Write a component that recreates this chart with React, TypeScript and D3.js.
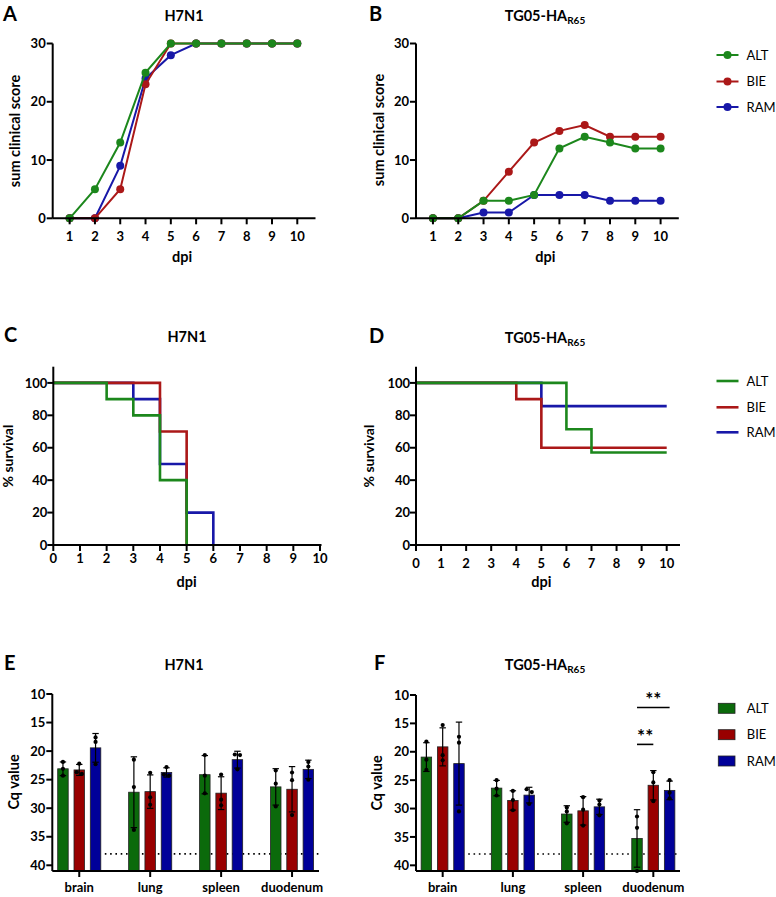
import React from "react";
import * as d3 from "d3";

// groups and colours
const groups = ["ALT", "BIE", "RAM"];
const lineColors = ["#1c871c", "#ab1818", "#1818a8"];
const barColors = ["#0b6a0b", "#990000", "#000099"];

// clinical score (A, B)
const dpi = [1, 2, 3, 4, 5, 6, 7, 8, 9, 10];
const scoreH7N1_ALT = [0, 5, 13, 25, 30, 30, 30, 30, 30, 30];
const scoreH7N1_BIE = [0, 0, 5, 23, 30, 30, 30, 30, 30, 30];
const scoreH7N1_RAM = [0, 0, 9, 24, 28, 30, 30, 30, 30, 30];
const scoreTG05_ALT = [0, 0, 3, 3, 4, 12, 14, 13, 12, 12];
const scoreTG05_BIE = [0, 0, 3, 8, 13, 15, 16, 14, 14, 14];
const scoreTG05_RAM = [0, 0, 1, 1, 4, 4, 4, 3, 3, 3];
const scoreTicks = [0, 10, 20, 30];

// survival (C, D): event days and % survival after each
const survH7N1_ALT_t = [0, 2, 3, 4, 5];
const survH7N1_ALT_v = [100, 90, 80, 40, 0];
const survH7N1_BIE_t = [0, 4, 5];
const survH7N1_BIE_v = [100, 70, 0];
const survH7N1_RAM_t = [0, 3, 4, 5, 6];
const survH7N1_RAM_v = [100, 90, 50, 20, 0];
const survTG05_ALT_t = [0, 6, 7];
const survTG05_ALT_v = [100, 71.4, 57.1];
const survTG05_BIE_t = [0, 4, 5];
const survTG05_BIE_v = [100, 90, 60];
const survTG05_RAM_t = [0, 5];
const survTG05_RAM_v = [100, 85.7];
const studyEnd = 10;
const survDays = [0, 1, 2, 3, 4, 5, 6, 7, 8, 9, 10];
const survTicks = [0, 20, 40, 60, 80, 100];

// Cq values (E, F): three birds per organ
const organs = ["brain", "lung", "spleen", "duodenum"];
const cqH7N1_ALT = [[21.9, 23.1, 24.3], [21.5, 26.3, 33.8], [20.7, 24.3, 27.4], [23.4, 25.7, 29.7]];
const cqH7N1_BIE = [[22.2, 23.7, 24.0], [23.8, 28.1, 29.4], [24.1, 28.5, 29.5], [23.75, 25.1, 31.2]];
const cqH7N1_RAM = [[17.6, 18.4, 22.3], [22.8, 24.1, 24.3], [20.6, 20.7, 23.2], [21.9, 22.7, 25.0]];
const cqTG05_ALT = [[18.2, 21.4, 23.2], [25.0, 26.5, 27.7], [29.8, 30.5, 32.6], [31.4, 33.4, 41.0]];
const cqTG05_BIE = [[15.3, 20.6, 21.5], [26.9, 28.5, 30.3], [28.0, 30.2, 33.0], [23.6, 25.4, 28.7]];
const cqTG05_RAM = [[17.35, 18.4, 30.5], [26.6, 27.1, 29.2], [28.6, 29.3, 31.2], [25.0, 27.2, 28.2]];
const cqTicks = [10, 15, 20, 25, 30, 35, 40];
const cqCutoff = 38;
// significance bars in panel F: [organ, group a, group b, Cq level, label]
const sigTG05: [string, number, number, number, string][] = [
  ["duodenum", 0, 1, 18.7, "**"],
  ["duodenum", 0, 2, 12.2, "**"],
];

const FONT = "Lato, 'Open Sans', Arial, sans-serif";
const TICK = 13;
const AXT = 14.5;

function Title({ x, y, main, sub }: { x: number; y: number; main: string; sub?: string }) {
  return (
    <text x={x} y={y} textAnchor="middle" fontWeight="bold" fontSize={14.5}>
      {main}
      {sub && (
        <tspan fontSize={10} dy={3}>
          {sub}
        </tspan>
      )}
    </text>
  );
}

function Letter({ x, y, t }: { x: number; y: number; t: string }) {
  return (
    <text x={x} y={y} fontWeight="bold" fontSize={20}>
      {t}
    </text>
  );
}

function YLabel({ x, y, t, size = AXT }: { x: number; y: number; t: string; size?: number }) {
  return (
    <text transform={`translate(${x},${y}) rotate(-90)`} textAnchor="middle" fontWeight="bold" fontSize={size}>
      {t}
    </text>
  );
}

function ScorePanel({ left, right, series }: { left: number; right: number; series: number[][] }) {
  const x = d3.scaleLinear().domain([0.33, 10.72]).range([left, right]);
  const y = d3.scaleLinear().domain([0, 30]).range([218.3, 43.5]);
  const line = d3
    .line<number>()
    .x((d, i) => x(dpi[i]))
    .y((d) => y(d));
  return (
    <g>
      {[2, 1, 0].map((gi) => (
        <g key={gi}>
          <path d={line(series[gi]) || ""} fill="none" stroke={lineColors[gi]} strokeWidth={2} />
          {series[gi].map((v, i) => (
            <circle key={i} cx={x(dpi[i])} cy={y(v)} r={4} fill={lineColors[gi]} />
          ))}
        </g>
      ))}
      <line x1={left} x2={left} y1={y(30)} y2={y(0)} stroke="#000" strokeWidth={2} />
      <line x1={left} x2={right} y1={y(0)} y2={y(0)} stroke="#000" strokeWidth={2} />
      {scoreTicks.map((t) => (
        <g key={t}>
          <line x1={left - 6} x2={left} y1={y(t)} y2={y(t)} stroke="#000" strokeWidth={2} />
          <text x={left - 7} y={y(t)} dy="0.36em" textAnchor="end" fontWeight="bold" fontSize={TICK}>
            {t}
          </text>
        </g>
      ))}
      {dpi.map((d) => (
        <g key={d}>
          <line x1={x(d)} x2={x(d)} y1={y(0)} y2={y(0) + 6} stroke="#000" strokeWidth={2} />
          <text x={x(d)} y={y(0) + 22.5} textAnchor="middle" fontWeight="bold" fontSize={TICK}>
            {d}
          </text>
        </g>
      ))}
      <text x={(left + right) / 2 - 2} y={262} textAnchor="middle" fontWeight="bold" fontSize={AXT}>
        dpi
      </text>
    </g>
  );
}

function SurvPanel({
  left,
  right,
  axisEnd,
  times,
  values,
  labelY,
}: {
  left: number;
  right: number;
  axisEnd: number;
  times: number[][];
  values: number[][];
  labelY: number;
}) {
  const x = d3.scaleLinear().domain([0, 10]).range([left, right]);
  const y = d3.scaleLinear().domain([0, 110]).range([545, 366.7]);
  const step = d3
    .line<[number, number]>()
    .x((d) => x(d[0]))
    .y((d) => y(d[1]))
    .curve(d3.curveStepAfter);
  return (
    <g>
      {[2, 1, 0].map((gi) => {
        const pts: [number, number][] = times[gi].map((t, i) => [t, values[gi][i]]);
        const last = values[gi][values[gi].length - 1];
        if (last > 0) pts.push([studyEnd, last]);
        return <path key={gi} d={step(pts) || ""} fill="none" stroke={lineColors[gi]} strokeWidth={2.6} />;
      })}
      <line x1={left} x2={left} y1={y(110)} y2={y(0)} stroke="#000" strokeWidth={2} />
      <line x1={left} x2={axisEnd} y1={y(0)} y2={y(0)} stroke="#000" strokeWidth={2} />
      {survTicks.map((t) => (
        <g key={t}>
          <line x1={left - 6} x2={left} y1={y(t)} y2={y(t)} stroke="#000" strokeWidth={2} />
          <text x={left - 6} y={y(t)} dy="0.36em" textAnchor="end" fontWeight="bold" fontSize={TICK}>
            {t}
          </text>
        </g>
      ))}
      {survDays.map((d) => (
        <g key={d}>
          <line x1={x(d)} x2={x(d)} y1={y(0)} y2={y(0) + 6} stroke="#000" strokeWidth={2} />
          <text x={x(d)} y={labelY} textAnchor="middle" fontWeight="bold" fontSize={TICK}>
            {d}
          </text>
        </g>
      ))}
      <text x={(left + right) / 2} y={587} textAnchor="middle" fontWeight="bold" fontSize={AXT}>
        dpi
      </text>
    </g>
  );
}

function CqPanel({
  left,
  right,
  top,
  data,
  sig,
}: {
  left: number;
  right: number;
  top: number;
  data: number[][][];
  sig?: [string, number, number, number, string][];
}) {
  const x = d3.scalePoint<string>().domain(organs).range([left, right]).padding(0.38);
  const y = d3.scaleLinear().domain([10, 41]).range([top, 871]);
  const pitch = 16.3;
  const bw = 10.5;
  const gx = (organ: string, gi: number) => (x(organ) as number) + (gi - 1) * pitch;
  const dotStart = gx(organs[0], 2) + bw / 2 + 4;
  return (
    <g>
      <line
        x1={dotStart}
        x2={right}
        y1={y(cqCutoff)}
        y2={y(cqCutoff)}
        stroke="#000"
        strokeWidth={1.6}
        strokeDasharray="1.6 3.7"
      />
      {organs.map((organ, oi) =>
        groups.map((g, gi) => {
          const vals = data[gi][oi];
          const m = d3.mean(vals) as number;
          const sd = d3.deviation(vals) as number;
          const cx = gx(organ, gi);
          return (
            <g key={organ + g}>
              <rect
                x={cx - bw / 2}
                y={y(m)}
                width={bw}
                height={y(41) - y(m)}
                fill={barColors[gi]}
                stroke="#222"
                strokeWidth={0.8}
              />
              <line x1={cx} x2={cx} y1={y(m - sd)} y2={y(m + sd)} stroke="#000" strokeWidth={1.2} />
              <line x1={cx - 3.2} x2={cx + 3.2} y1={y(m - sd)} y2={y(m - sd)} stroke="#000" strokeWidth={1.2} />
              <line x1={cx - 3.2} x2={cx + 3.2} y1={y(m + sd)} y2={y(m + sd)} stroke="#000" strokeWidth={1.2} />
              {vals.map((v, i) => {
                const near = vals.some((w, j) => j !== i && Math.abs(w - v) < 0.6);
                const off = near ? (vals.findIndex((w) => Math.abs(w - v) < 0.6) === i ? -2.6 : 2.6) : 0;
                return <circle key={i} cx={cx + off} cy={y(v)} r={2.1} fill="#000" />;
              })}
            </g>
          );
        })
      )}
      <line x1={left} x2={left} y1={y(10)} y2={y(41)} stroke="#000" strokeWidth={2} />
      <line x1={left} x2={right} y1={y(41)} y2={y(41)} stroke="#000" strokeWidth={2} />
      {cqTicks.map((t) => (
        <g key={t}>
          <line x1={left - 6} x2={left} y1={y(t)} y2={y(t)} stroke="#000" strokeWidth={2} />
          <text x={left - 7} y={y(t)} dy="0.36em" textAnchor="end" fontWeight="bold" fontSize={TICK}>
            {t}
          </text>
        </g>
      ))}
      {organs.map((organ) => (
        <g key={organ}>
          <line x1={x(organ)} x2={x(organ)} y1={y(41)} y2={y(41) + 6} stroke="#000" strokeWidth={2} />
          <text x={x(organ)} y={y(41) + 20.5} textAnchor="middle" fontWeight="bold" fontSize={TICK}>
            {organ}
          </text>
        </g>
      ))}
      {(sig || []).map(([organ, a, b, level, label], i) => {
        const x1 = gx(organ, a);
        const x2 = gx(organ, b);
        return (
          <g key={i}>
            <line x1={x1} x2={x2} y1={y(level)} y2={y(level)} stroke="#000" strokeWidth={1.6} />
            <text x={(x1 + x2) / 2} y={y(level) - 1} textAnchor="middle" fontWeight="bold" fontSize={19}>
              {label}
            </text>
          </g>
        );
      })}
    </g>
  );
}

function Legend({ x, ys, kind }: { x: number; ys: number[]; kind: "dot" | "line" | "bar" }) {
  return (
    <g>
      {groups.map((g, i) => (
        <g key={g}>
          {kind === "bar" ? (
            <rect x={x} y={ys[i] - 5} width={16.7} height={10} fill={barColors[i]} stroke="#222" strokeWidth={0.8} />
          ) : (
            <line x1={x - 1.5} x2={x + 20.5} y1={ys[i]} y2={ys[i]} stroke={lineColors[i]} strokeWidth={kind === "line" ? 2.6 : 2} />
          )}
          {kind === "dot" && <circle cx={x + 9.5} cy={ys[i]} r={4} fill={lineColors[i]} />}
          <text x={x + 28.5} y={ys[i]} dy="0.36em" fontSize={13}>
            {g}
          </text>
        </g>
      ))}
    </g>
  );
}

export default function App() {
  return (
    <svg
      width={776}
      height={897}
      style={{ position: "absolute", left: 0, top: 0, background: "#fff", fontFamily: FONT }}
    >
      <rect width={776} height={897} fill="#fff" />
      {/* A */}
      <Letter x={3} y={21} t="A" />
      <Title x={184} y={20.5} main="H7N1" />
      <YLabel x={20} y={131} t="sum clinical score" />
      <ScorePanel left={52.7} right={315.5} series={[scoreH7N1_ALT, scoreH7N1_BIE, scoreH7N1_RAM]} />
      {/* B */}
      <Letter x={369} y={21} t="B" />
      <Title x={545} y={20.5} main="TG05-HA" sub="R65" />
      <YLabel x={383.5} y={130} t="sum clinical score" />
      <ScorePanel left={416} right={678.8} series={[scoreTG05_ALT, scoreTG05_BIE, scoreTG05_RAM]} />
      <Legend x={718} ys={[55, 81.5, 107]} kind="dot" />
      {/* C */}
      <Letter x={4} y={342} t="C" />
      <Title x={187} y={341.5} main="H7N1" />
      <YLabel x={12.5} y={456} t="% survival" size={14} />
      <SurvPanel
        left={53.3}
        right={320}
        axisEnd={321.5}
        labelY={562.5}
        times={[survH7N1_ALT_t, survH7N1_BIE_t, survH7N1_RAM_t]}
        values={[survH7N1_ALT_v, survH7N1_BIE_v, survH7N1_RAM_v]}
      />
      {/* D */}
      <Letter x={369} y={343} t="D" />
      <Title x={545} y={343} main="TG05-HA" sub="R65" />
      <YLabel x={374} y={456} t="% survival" size={14} />
      <SurvPanel
        left={416}
        right={666.7}
        axisEnd={680}
        labelY={567.5}
        times={[survTG05_ALT_t, survTG05_BIE_t, survTG05_RAM_t]}
        values={[survTG05_ALT_v, survTG05_BIE_v, survTG05_RAM_v]}
      />
      <Legend x={718} ys={[381, 407.3, 432.3]} kind="line" />
      {/* E */}
      <Letter x={4} y={670} t="E" />
      <Title x={184} y={670} main="H7N1" />
      <YLabel x={18.5} y={782} t="Cq value" />
      <CqPanel left={52.3} right={319} top={694} data={[cqH7N1_ALT, cqH7N1_BIE, cqH7N1_RAM]} />
      {/* F */}
      <Letter x={374} y={670} t="F" />
      <Title x={545} y={670} main="TG05-HA" sub="R65" />
      <YLabel x={381.5} y={783} t="Cq value" />
      <CqPanel left={416} right={680} top={695} data={[cqTG05_ALT, cqTG05_BIE, cqTG05_RAM]} sig={sigTG05} />
      <Legend x={718.3} ys={[708.3, 734.7, 761]} kind="bar" />
    </svg>
  );
}
